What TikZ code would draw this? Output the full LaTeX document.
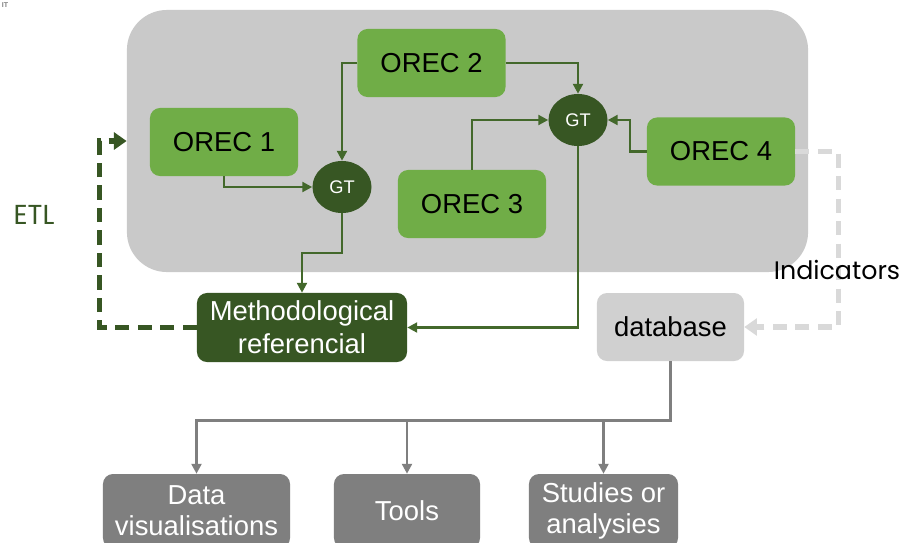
\documentclass[tikz,border=0pt]{standalone}
\usepackage{fontspec}
\setmainfont{Liberation Sans}
\newfontfamily\roundfont{Poppins}
\usetikzlibrary{arrows.meta,shapes.geometric}

\definecolor{coregray}{HTML}{C9C9C9}
\definecolor{orecgreen}{HTML}{70AD47}
\definecolor{darkgreen}{HTML}{375623}
\definecolor{linegreen}{HTML}{43682B}
\definecolor{dbgray}{HTML}{D0D0D0}
\definecolor{dashgray}{HTML}{D9D9D9}
\definecolor{outgray}{HTML}{7F7F7F}

\tikzset{
	orecbox/.style={fill=orecgreen, rounded corners=0.25cm, minimum width=3.7cm, minimum height=1.7cm, font=\fontsize{19.5}{22}\selectfont},
	gtnode/.style={ellipse, fill=darkgreen, text=white, minimum width=1.475cm, minimum height=1.3cm, inner sep=0pt, font=\fontsize{13}{15}\selectfont},
	outbox/.style={fill=outgray, text=white, rounded corners=0.25cm, minimum height=1.85cm, align=center, font=\fontsize{19.5}{22}\selectfont},
	greenline/.style={draw=linegreen, line width=1.7pt, -{Triangle[length=7pt,width=7pt]}},
	grayline/.style={draw=outgray, line width=1.8pt, -{Triangle[length=7pt,width=7pt]}}
}

\begin{document}
\begin{tikzpicture}[x=0.025cm, y=-0.025cm]
	\clip (0,0) rectangle (908,542);
	\fill [white] (0,0) rectangle (908,542);
	% top corner remains
	\node [text=gray, font=\fontsize{5}{6}\selectfont\bfseries, inner sep=0pt] (corner) at (5,5) {IT};

	% core block
	\node [fill=coregray, rounded corners=1cm, minimum width=17.025cm, minimum height=6.55cm] (core) at (467.5,141) {};
	\node [orecbox] (orec1) at (224,142) {OREC 1};
	\node [orecbox] (orec2) at (431.5,63) {OREC 2};
	\node [orecbox] (orec3) at (472,204) {OREC 3};
	\node [orecbox] (orec4) at (721,151.5) {OREC 4};
	\node [gtnode] (gt1) at (342,187) {GT};
	\node [gtnode] (gt2) at (578,120) {GT};

	\node [fill=darkgreen, text=white, rounded corners=0.25cm, minimum width=5.25cm, minimum height=1.725cm, align=center, font=\fontsize{19.5}{23.5}\selectfont] (meth) at (302,327.5) {Methodological\\referencial};
	\node [fill=dbgray, rounded corners=0.25cm, minimum width=3.675cm, minimum height=1.7cm, font=\fontsize{19.5}{22}\selectfont] (db) at (670.5,327) {database};

	\node [outbox, minimum width=4.675cm] (vis) at (196.5,511) {Data\\visualisations};
	\node [outbox, minimum width=3.65cm] (tools) at (407,511) {Tools};
	\node [outbox, minimum width=3.725cm] (studies) at (603.5,511) {Studies or\\analysies};

	% inside connectors
	\draw [greenline] (orec1.south) |- (gt1.west);
	\draw [greenline] (orec2.west) -| (gt1.north);
	\draw [greenline] (orec2.east) -| (gt2.north);
	\draw [greenline] (orec3.north) |- (gt2.west);
	\draw [greenline] (orec4.west) -- ++(-17,0) |- (gt2.east);
	\draw [greenline] (gt1.south) -- ++(0,40) -| (meth.north);
	\draw [greenline] (gt2.south) |- (meth.east);

	% ETL and indicators loops
	\draw [draw=darkgreen, line width=3.6pt, dash pattern=on 10pt off 6pt, -{Triangle[length=9pt,width=12pt]}] (meth.west) -- ++(-97,0) |- (core.west);
	\draw [draw=dashgray, line width=3.6pt, dash pattern=on 10pt off 6pt, -{Triangle[length=9pt,width=12pt]}] (orec4.east) -- ++(43,0) |- (db.east);
	\node [text=darkgreen, font=\roundfont\fontsize{19.5}{22}\selectfont] (etl) at (34,215) {ETL};
	\node [font=\roundfont\fontsize{18}{20}\selectfont] (ind) at (837,270) {Indicators};

	% outputs
	\draw [grayline] (db.south) -- ++(0,59) coordinate (bus) -| (vis.north);
	\draw [grayline] (bus -| tools.north) -- (tools.north);
	\draw [grayline] (bus -| studies.north) -- (studies.north);
\end{tikzpicture}
\end{document}
